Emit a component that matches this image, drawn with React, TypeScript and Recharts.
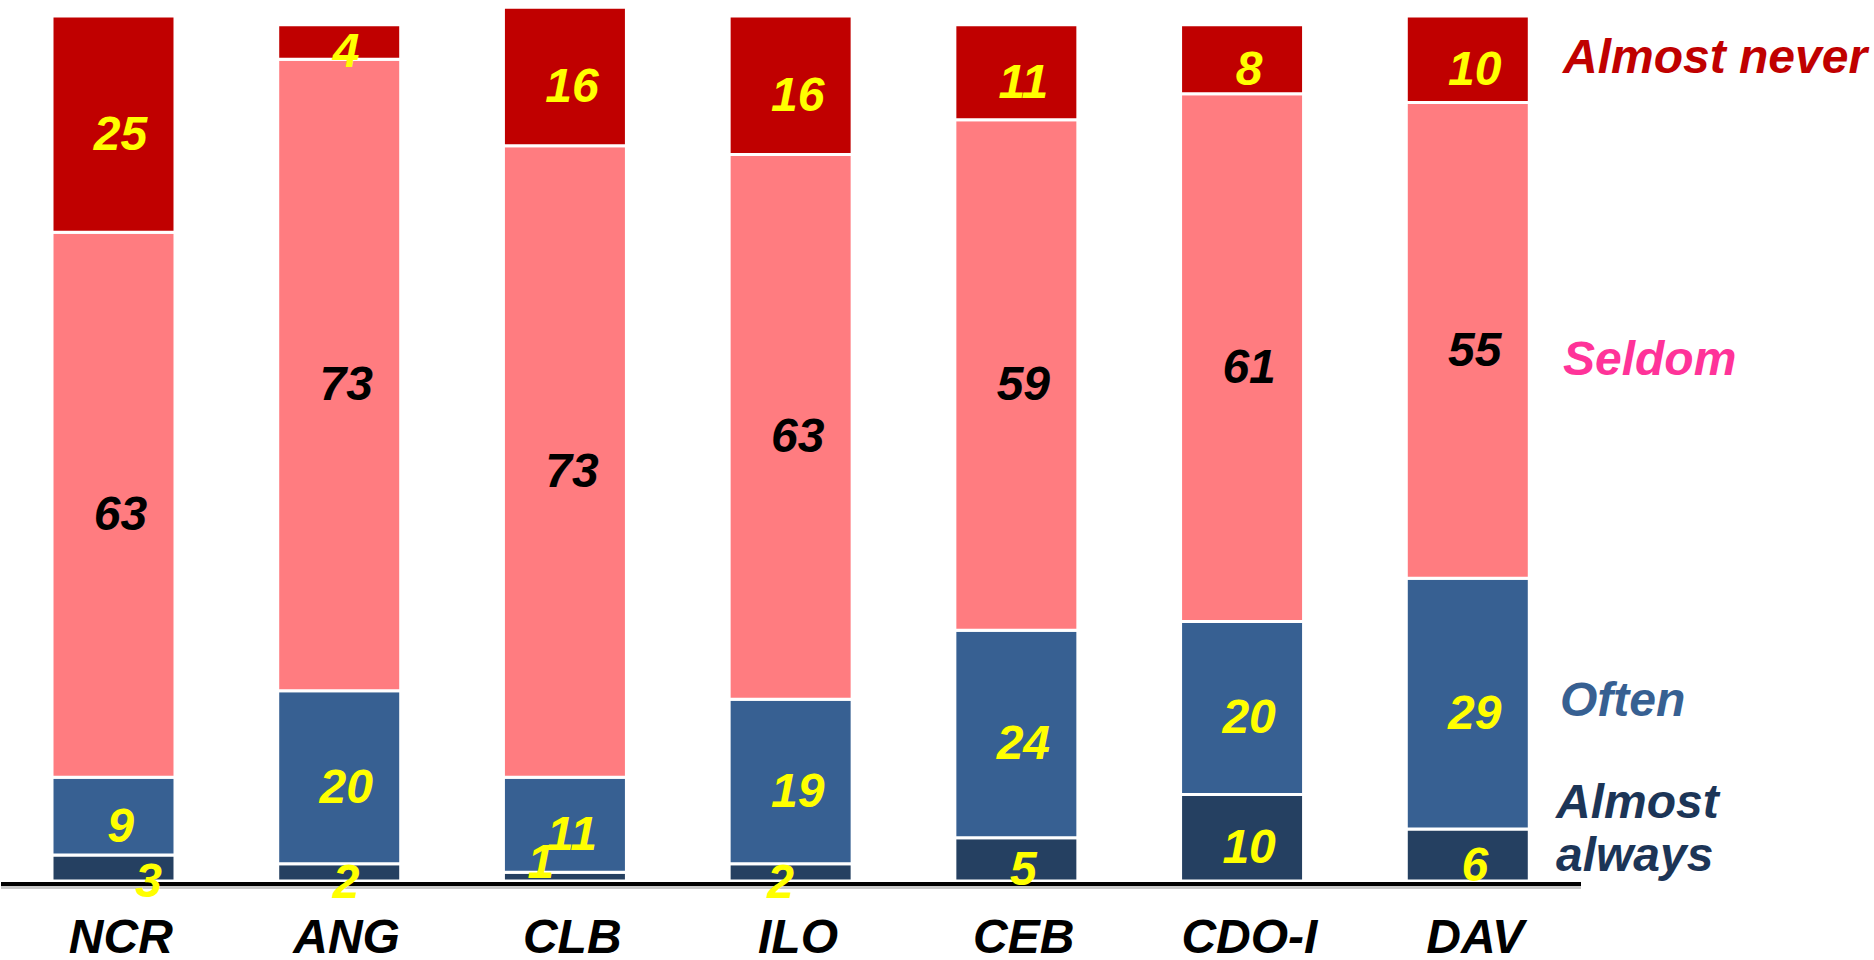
import { Bar, BarChart, LabelList, ReferenceLine, XAxis, YAxis } from 'recharts'

const regions = ['NCR', 'ANG', 'CLB', 'ILO', 'CEB', 'CDO-I', 'DAV']
const almostAlways = [3, 2, 1, 2, 5, 10, 6]
const often = [9, 20, 11, 19, 24, 20, 29]
const seldom = [63, 73, 73, 63, 59, 61, 55]
const almostNever = [25, 4, 16, 16, 11, 8, 10]

const rows = regions.map((name, i) => ({
  name,
  almostAlways: almostAlways[i],
  often: often[i],
  seldom: seldom[i],
  almostNever: almostNever[i],
}))

const FONT = '"Liberation Sans", Arial, sans-serif'

// small labels that sit off-centre in the original slide
const nudge: Record<string, Record<number, [number, number]>> = {
  almostAlways: { 0: [28, 4], 2: [-31, -24], 3: [-17, 0] },
}

function makeLabel(key: string, color: string) {
  return (props: any) => {
    const vb = props.viewBox ?? props
    const x = Number(vb.x ?? props.x)
    const y = Number(vb.y ?? props.y)
    const w = Number(vb.width ?? props.width)
    const h = Number(vb.height ?? props.height)
    const top = h < 0 ? y + h : y
    const [nx, ny] = nudge[key]?.[props.index] ?? [0, 0]
    return (
      <text
        x={x + w / 2 + 7 + nx}
        y={top + Math.abs(h) / 2 + 9 + ny}
        textAnchor="middle"
        dominantBaseline="central"
        fill={color}
        fontFamily={FONT}
        fontWeight="bold"
        fontStyle="italic"
        fontSize={48}
      >
        {props.value}
      </text>
    )
  }
}

function RegionTick({ x, y, payload }: any) {
  return (
    <text
      x={x + 7}
      y={y + 44}
      textAnchor="middle"
      dominantBaseline="central"
      fill="#000"
      fontFamily={FONT}
      fontWeight="bold"
      fontStyle="italic"
      fontSize={48}
    >
      {payload.value}
    </text>
  )
}

const legendText = { fontFamily: FONT, fontWeight: 'bold', fontStyle: 'italic', fontSize: 48 } as const

export default function App() {
  return (
    <div style={{ position: 'absolute', left: 0, top: 0, width: 1874, height: 960, background: '#fff' }}>
      <BarChart
        width={1874}
        height={960}
        data={rows}
        margin={{ top: 0, right: 293, left: 1, bottom: 0 }}
        barSize={123}
      >
        <YAxis hide domain={[-0.35, 101.85]} />
        <XAxis
          dataKey="name"
          height={76}
          axisLine={{ stroke: '#000', strokeWidth: 4 }}
          tickLine={false}
          tick={<RegionTick />}
          interval={0}
        />
        <ReferenceLine y={-0.75} stroke="#c8c8c8" strokeWidth={3} ifOverflow="visible" />
        <Bar dataKey="almostAlways" stackId="a" fill="#254061" stroke="#fff" strokeWidth={3} isAnimationActive={false}>
          <LabelList dataKey="almostAlways" content={makeLabel('almostAlways', '#ffff00')} />
        </Bar>
        <Bar dataKey="often" stackId="a" fill="#376092" stroke="#fff" strokeWidth={3} isAnimationActive={false}>
          <LabelList dataKey="often" content={makeLabel('often', '#ffff00')} />
        </Bar>
        <Bar dataKey="seldom" stackId="a" fill="#ff7c80" stroke="#fff" strokeWidth={3} isAnimationActive={false}>
          <LabelList dataKey="seldom" content={makeLabel('seldom', '#000')} />
        </Bar>
        <Bar dataKey="almostNever" stackId="a" fill="#c00000" stroke="#fff" strokeWidth={3} isAnimationActive={false}>
          <LabelList dataKey="almostNever" content={makeLabel('almostNever', '#ffff00')} />
        </Bar>
      </BarChart>
      <svg width={1874} height={960} style={{ position: 'absolute', left: 0, top: 0, pointerEvents: 'none' }}>
        <text x={1563} y={56} dominantBaseline="central" fill="#c00000" {...legendText}>Almost never</text>
        <text x={1563} y={358} dominantBaseline="central" fill="#ff3399" {...legendText}>Seldom</text>
        <text x={1560} y={699} dominantBaseline="central" fill="#376092" {...legendText}>Often</text>
        <text x={1556} y={801} dominantBaseline="central" fill="#1c3557" {...legendText}>Almost</text>
        <text x={1556} y={854} dominantBaseline="central" fill="#1c3557" {...legendText}>always</text>
      </svg>
    </div>
  )
}
